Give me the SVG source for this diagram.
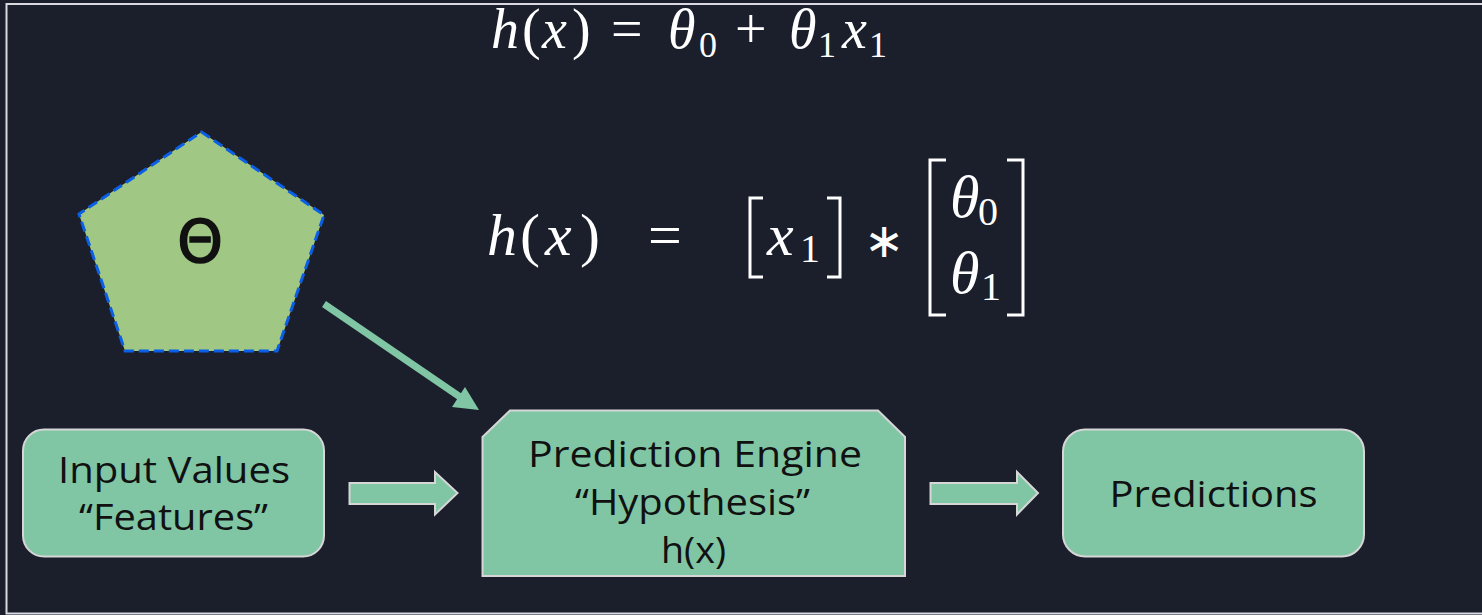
<svg xmlns="http://www.w3.org/2000/svg" width="1482" height="615" viewBox="0 0 1482 615">
  <style>
    .it { font-style: italic; }
    .br { fill: none; stroke: #ffffff; stroke-width: 3; }
    .box { fill: #80c6a5; stroke: #d6d6d6; stroke-width: 2; }
    .lbl { font-family: "Open Sans", "Liberation Sans", sans-serif; font-size: 36px; fill: #111111; text-anchor: middle; }
    .blk { fill: #80c6a5; stroke: #d6d6d6; stroke-width: 2; stroke-linejoin: miter; }
  </style>

  <!-- canvas and frame -->
  <rect width="1482" height="615" fill="#1b1f2c"/>
  <path d="M1482,4 H6.5 V613.5 H1482" fill="none" stroke="#d8dae0" stroke-width="2"/>

  <!-- linear hypothesis -->
  <g id="formula-linear" font-family="Liberation Serif, DejaVu Serif, serif" fill="#ffffff">
    <text font-size="56" y="48">
      <tspan class="it" x="491">h</tspan><tspan x="522">(</tspan><tspan class="it" x="542">x</tspan><tspan x="572">)</tspan><tspan x="611">=</tspan><tspan class="it" x="668">θ</tspan><tspan x="735">+</tspan><tspan class="it" x="789">θ</tspan><tspan class="it" x="842">x</tspan>
    </text>
    <text font-size="36" y="57">
      <tspan x="699">0</tspan><tspan x="818">1</tspan><tspan x="869">1</tspan>
    </text>
  </g>

  <!-- matrix form of the hypothesis -->
  <g id="formula-matrix" font-family="Liberation Serif, DejaVu Serif, serif" fill="#ffffff">
    <text font-size="60" y="255">
      <tspan class="it" x="487">h</tspan><tspan x="520">(</tspan><tspan class="it" x="545">x</tspan><tspan x="580">)</tspan><tspan x="648">=</tspan><tspan class="it" x="767">x</tspan>
    </text>
    <text font-size="40" x="800" y="262">1</text>
    <path class="br" d="M763,198 H750 V277 H763"/>
    <path class="br" d="M827,198 H840 V277 H827"/>
    <text font-family="DejaVu Sans, sans-serif" font-size="48" x="864" y="257">∗</text>
    <path class="br" d="M946,160 H930 V315 H946"/>
    <path class="br" d="M1007,160 H1023 V315 H1007"/>
    <text class="it" font-size="60" x="950" y="217">θ</text>
    <text font-size="40" x="978" y="225">0</text>
    <text class="it" font-size="60" x="950" y="293">θ</text>
    <text font-size="40" x="981" y="300">1</text>
  </g>

  <!-- parameters -->
  <g id="theta">
    <polygon points="201.5,132 324,215 277,351 125,351 79,214" fill="#a0c884" stroke="#0a5fe6" stroke-width="3" stroke-dasharray="10,5"/>
    <text font-family="DejaVu Sans, sans-serif" font-size="58" fill="#111111" stroke="#111111" stroke-width="1.5" text-anchor="middle" x="200" y="262">Θ</text>
  </g>

  <g id="input">
    <rect class="box" x="23" y="429.5" width="301" height="127" rx="21"/>
    <text class="lbl" x="174" y="483" textLength="232" lengthAdjust="spacingAndGlyphs">Input Values</text>
    <text class="lbl" x="173.5" y="530" textLength="189" lengthAdjust="spacingAndGlyphs">“Features”</text>
  </g>

  <g id="engine">
    <path class="box" d="M482.5,437 L510,410.5 H878 L905,437 V576 H482.5 Z"/>
    <text class="lbl" x="695" y="467" textLength="334" lengthAdjust="spacingAndGlyphs">Prediction Engine</text>
    <text class="lbl" x="692.5" y="515" textLength="235" lengthAdjust="spacingAndGlyphs">“Hypothesis”</text>
    <text class="lbl" x="693.5" y="563" textLength="65" lengthAdjust="spacingAndGlyphs">h(x)</text>
  </g>

  <g id="predictions">
    <rect class="box" x="1063" y="429.5" width="301" height="127" rx="22"/>
    <text class="lbl" x="1213.5" y="507" textLength="208" lengthAdjust="spacingAndGlyphs">Predictions</text>
  </g>

  <g id="connectors">
    <line x1="324" y1="304" x2="466" y2="401" stroke="#80c6a5" stroke-width="7"/>
    <polygon points="479,410 452,407 465,387" fill="#80c6a5"/>
    <polygon class="blk" points="349.5,483 435,483 435,472 457.5,493 435,514.5 435,504 349.5,504"/>
    <polygon class="blk" points="930.5,483 1017,483 1017,472 1038,493 1017,514.5 1017,504 930.5,504"/>
  </g>
</svg>
